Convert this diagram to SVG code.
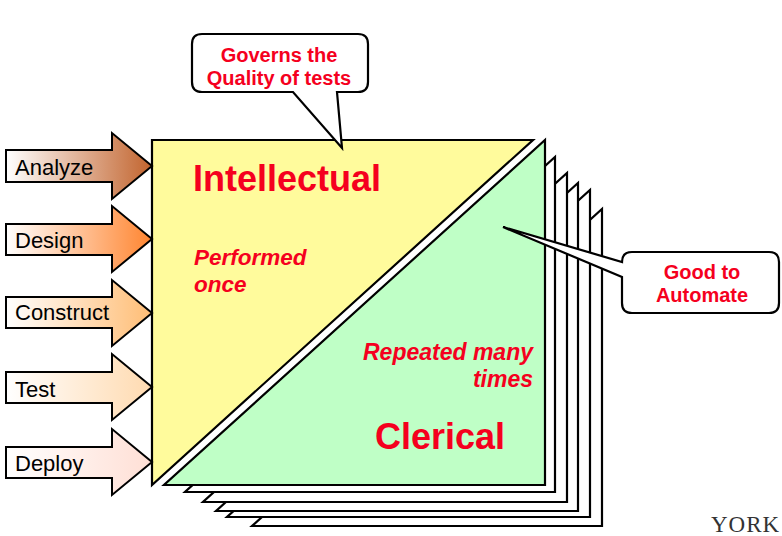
<svg xmlns="http://www.w3.org/2000/svg" width="782" height="536" viewBox="0 0 782 536">
<defs>
<linearGradient id="gA" x1="0" y1="0" x2="1" y2="0"><stop offset="0" stop-color="#ffffff"/><stop offset="1" stop-color="#C2642E"/></linearGradient>
<linearGradient id="gD" x1="0" y1="0" x2="1" y2="0"><stop offset="0" stop-color="#ffffff"/><stop offset="1" stop-color="#FF8530"/></linearGradient>
<linearGradient id="gC" x1="0" y1="0" x2="1" y2="0"><stop offset="0" stop-color="#ffffff"/><stop offset="1" stop-color="#FFBD75"/></linearGradient>
<linearGradient id="gT" x1="0" y1="0" x2="1" y2="0"><stop offset="0" stop-color="#ffffff"/><stop offset="1" stop-color="#FFDAB0"/></linearGradient>
<linearGradient id="gP" x1="0" y1="0" x2="1" y2="0"><stop offset="0" stop-color="#ffffff"/><stop offset="1" stop-color="#FFDFD5"/></linearGradient>
</defs>
<style>
.ln{stroke:#000;stroke-width:2.2;stroke-linejoin:miter}
.arrow{stroke:#000;stroke-width:2;stroke-linejoin:miter}
.lbl{font-family:"Liberation Sans",Arial,sans-serif;font-size:22px;fill:#000}
.red{font-family:"Liberation Sans",Arial,sans-serif;font-weight:bold;fill:#F5001E}
.big{font-size:36px}
.it{font-size:22.5px;font-style:italic}
.call{font-size:20px;text-anchor:middle}
.page{fill:#fff}
</style>

<g id="pages">
<path class="ln page" d="M602,209 L602,526 L252,526 Z"/>
<path class="ln page" d="M590,190 L590,517 L227,517 Z"/>
<path class="ln page" d="M578,183 L578,511 L216,511 Z"/>
<path class="ln page" d="M567,173 L567,502 L203,502 Z"/>
<path class="ln page" d="M555,157 L555,492 L185,492 Z"/>
</g>

<g id="intellectual">
<path class="ln" fill="#FFFB9C" d="M152,140 L533,140 L152,485 Z"/>
<text class="red big" x="193" y="191">Intellectual</text>
<text class="red it" x="194" y="265">Performed</text>
<text class="red it" x="194" y="292">once</text>
</g>

<g id="clerical">
<path class="ln" fill="#BFFFC6" d="M545,140 L545,485 L164,485 Z"/>
<text class="red it" x="533" y="360" text-anchor="end" style="font-size:23px">Repeated many</text>
<text class="red it" x="533" y="387" text-anchor="end" style="font-size:23px">times</text>
<text class="red big" x="375" y="449">Clerical</text>
</g>

<g id="analyze">
<path class="arrow" fill="url(#gA)" d="M6,150 L112,150 L112,133 L152,166 L112,199 L112,182 L6,182 Z"/>
<text class="lbl" x="15" y="175">Analyze</text>
</g>
<g id="design">
<path class="arrow" fill="url(#gD)" d="M6,224 L112,224 L112,206 L152,239 L112,272 L112,255 L6,255 Z"/>
<text class="lbl" x="15" y="248">Design</text>
</g>
<g id="construct">
<path class="arrow" fill="url(#gC)" d="M6,297 L112,297 L112,280 L152,313 L112,346 L112,328 L6,328 Z"/>
<text class="lbl" x="15" y="320">Construct</text>
</g>
<g id="test">
<path class="arrow" fill="url(#gT)" d="M6,372 L112,372 L112,354 L152,387 L112,420 L112,403 L6,403 Z"/>
<text class="lbl" x="15" y="397">Test</text>
</g>
<g id="deploy">
<path class="arrow" fill="url(#gP)" d="M6,447 L112,447 L112,429 L152,462 L112,495 L112,478 L6,478 Z"/>
<text class="lbl" x="15" y="471">Deploy</text>
</g>

<g id="callout-quality">
<path class="ln" fill="#fff" d="M202,34 L358,34 Q368,34 368,44 L368,82 Q368,92 358,92 L337,92 L342,148 L293,92 L202,92 Q192,92 192,82 L192,44 Q192,34 202,34 Z"/>
<text class="red call" x="279" y="62">Governs the</text>
<text class="red call" x="279" y="85">Quality of tests</text>
</g>

<g id="callout-automate">
<path class="ln" fill="#fff" d="M632,252 L769,252 Q779,252 779,262 L779,303 Q779,313 769,313 L632,313 Q622,313 622,303 L622,277 L503,227 L622,262 Q622,252 632,252 Z"/>
<text class="red call" x="702" y="279">Good to</text>
<text class="red call" x="702" y="302">Automate</text>
</g>

<g id="connectors"></g>

<text x="711" y="532" font-family="Liberation Serif,Times New Roman,serif" font-size="23" letter-spacing="1" fill="#333">YORK</text>
</svg>
